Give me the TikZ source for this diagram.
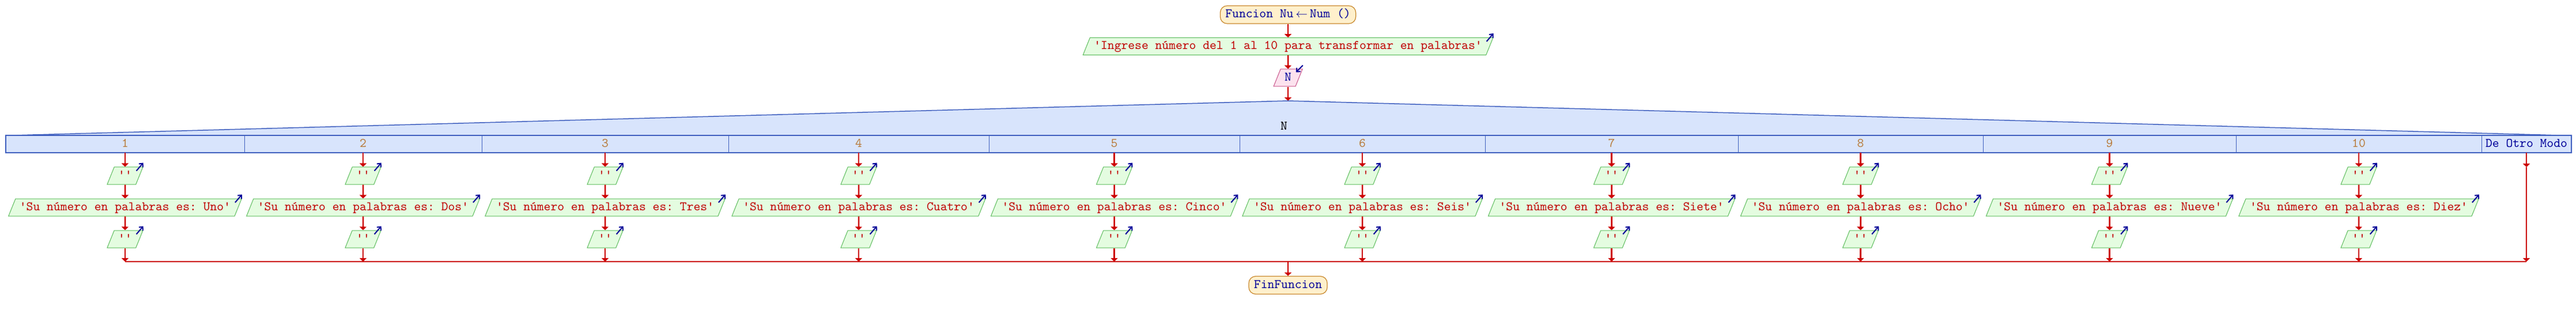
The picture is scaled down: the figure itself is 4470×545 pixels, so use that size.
\documentclass[tikz,border=0pt]{standalone}
\usepackage{fontspec}
\setmonofont{lmmono10-regular.otf}
\usetikzlibrary{arrows.meta}
\usetikzlibrary {shapes.geometric}

\definecolor{flowred}{HTML}{CC0000}
\definecolor{strred}{HTML}{C00000}
\definecolor{ionavy}{HTML}{000099}
\definecolor{iofill}{HTML}{E4FCE0}
\definecolor{ioline}{HTML}{5CBC5C}
\definecolor{infill}{HTML}{FCE2EE}
\definecolor{inline}{HTML}{C8548A}
\definecolor{termfill}{HTML}{FFF0CC}
\definecolor{termline}{HTML}{C8862A}
\definecolor{casefill}{HTML}{D8E4FC}
\definecolor{caseline}{HTML}{3F5FBF}
\definecolor{caselabel}{HTML}{B87A3A}

\tikzset{
  txt/.style={font=\fontsize{22.5}{25}\selectfont\ttfamily\frenchspacing, text height=15pt, text depth=4pt},
  flow/.style={draw=flowred, line width=2.5pt, -{Triangle[length=6pt,width=12pt]}},
  flowline/.style={draw=flowred, line width=2.5pt},
  outbox/.style={trapezium, trapezium left angle=68, trapezium right angle=112,
    draw=ioline, fill=iofill, line width=1pt, inner xsep=7pt, inner ysep=5.5pt,
    text=strred, txt},
  inbox/.style={outbox, draw=inline, fill=infill, text=ionavy},
  term/.style={rectangle, rounded corners=12pt, draw=termline, fill=termfill,
    line width=1.2pt, inner xsep=9pt, inner ysep=6pt, text=ionavy, txt},
  iomark/.style={draw=ionavy, line width=2pt, -{Straight Barb[length=5pt,width=9pt]}},
  caselbl/.style={txt, text=caselabel}
}

\begin{document}
\begin{tikzpicture}[x=1pt,y=-1pt]
            % Define the main axis and the selector rows
            \def\midx{2235}  % centre line of the flow
            \def\bartop{235} % top of the case bar
            \def\barbot{265} % bottom of the case bar
            \def\joiny{454}  % level of the joining line

            \useasboundingbox (0,0) rectangle (4470,545);

            % Draw start, prompt and read
            \node[term] (start) at (\midx,25.5) {Funcion Nu\,$\leftarrow$\,Num ()};
            \node[outbox] (prompt) at (\midx,80.5) {'Ingrese número del 1 al 10 para transformar en palabras'};
            \node[inbox] (readN) at (\midx,135) {N};
            \coordinate (apex) at (\midx,175);

            \draw[flow] (start) -- (prompt);
            \draw[flow] (prompt) -- (readN);
            \draw[flow] (readN) -- (apex);
            \draw[iomark] ([shift={(-12,7)}]prompt.top right corner) -- ([shift={(0,-7)}]prompt.top right corner);
            \draw[iomark] ([shift={(0,-6)}]readN.top right corner) -- ([shift={(-12,6)}]readN.top right corner);

            % Draw the case selector
            \draw[draw=caseline, fill=casefill, line width=1.5pt] (20,\bartop) -- (apex) -- (4445,\bartop) -- cycle;
            \draw[draw=caseline, fill=casefill, line width=1.5pt] (10,\bartop) rectangle (4462,\barbot);
            \node[txt] (sel) at (2228,220) {N};
            \foreach \d in {424,836,1264,1716,2151,2577,3016,3441,3880,4306}
                \draw[caseline, line width=1pt] (\d,\bartop) -- (\d,\barbot);

            % Draw the ten branches
            \foreach \cx/\num/\word [count=\i] in {217/1/Uno, 630/2/Dos, 1050/3/Tres, 1490/4/Cuatro,
                1933.5/5/Cinco, 2364/6/Seis, 2796.5/7/Siete, 3228.5/8/Ocho, 3660.5/9/Nueve, 4093/10/Diez} {
                \node[caselbl] (lbl\i) at (\cx,250) {\num};
                \coordinate (top\i) at (\cx,\barbot);
                \node[outbox] (blankA\i) at (\cx,305) {''};
                \node[outbox] (say\i) at (\cx,360) {'Su número en palabras es: \word'};
                \node[outbox] (blankB\i) at (\cx,415) {''};
                \coordinate (join\i) at (\cx,\joiny);

                \draw[flow] (top\i) -- (blankA\i);
                \draw[flow] (blankA\i) -- (say\i);
                \draw[flow] (say\i) -- (blankB\i);
                \draw[flow] (blankB\i) -- (join\i);

                \draw[iomark] ([shift={(-12,7)}]blankA\i.top right corner) -- ([shift={(0,-7)}]blankA\i.top right corner);
                \draw[iomark] ([shift={(-12,7)}]say\i.top right corner) -- ([shift={(0,-7)}]say\i.top right corner);
                \draw[iomark] ([shift={(-12,7)}]blankB\i.top right corner) -- ([shift={(0,-7)}]blankB\i.top right corner);
            }

            % Draw the default branch
            \node[txt, text=ionavy] (otro) at (4384,250) {De Otro Modo};
            \coordinate (otroTop) at (4384,\barbot);
            \coordinate (otroMid) at (4384,290);
            \coordinate (otroEnd) at (4384,\joiny);
            \draw[flow] (otroTop) -- (otroMid);
            \draw[flow] (otroMid) -- (otroEnd);

            % Join the branches and end
            \draw[flowline] (join1) -- (otroEnd);
            \coordinate (merge) at (\midx,\joiny);
            \node[term] (stop) at (\midx,495) {FinFuncion};
            \draw[flow] (merge) -- (stop);
\end{tikzpicture}
\end{document}
